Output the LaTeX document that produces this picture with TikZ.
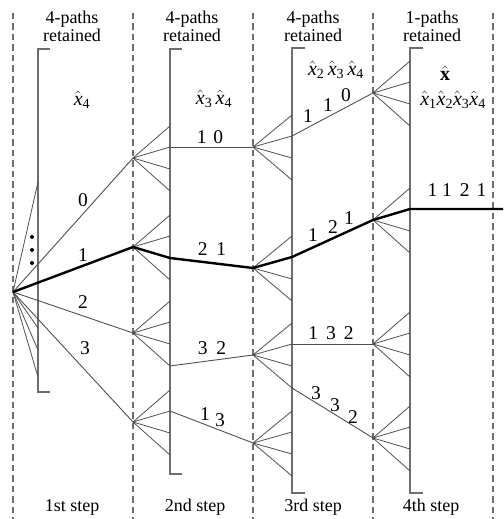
\documentclass[tikz,border=0pt]{standalone}
\usepackage{fontspec}
\setmainfont{Liberation Serif}
\usetikzlibrary{positioning}
\definecolor{treeln}{HTML}{505050}
\definecolor{brkln}{HTML}{6E6E6E}
\definecolor{stepln}{HTML}{6E6E6E}
\newcommand{\xest}[1]{$\hat{\mbox{\itshape x}}$\textsubscript{#1}}

\begin{document}
\begin{tikzpicture}[
  x=1pt, y=-1pt,
  font=\fontsize{18}{18.5}\selectfont,
  hdr/.style={align=center, inner sep=0pt},
  stp/.style={anchor=base, inner sep=0pt},
  dig/.style={inner sep=0pt, font=\fontsize{19.5}{20}\selectfont},
  est/.style={inner sep=0pt, font=\fontsize{20}{20}\selectfont},
  branch/.style={draw=treeln, line width=0.8pt},
  surv/.style={draw=treeln, line width=0.9pt},
  best/.style={draw=black, line width=2.4pt, line join=round},
  brk/.style={draw=brkln, line width=1.4pt},
  stepsep/.style={draw=stepln, line width=1.1pt, dash pattern=on 6.5pt off 4pt},
]
\useasboundingbox (0,0) rectangle (503,519);

% ---- step separators ----
\foreach \x in {13,133,253,373,493}
  \draw[stepsep] (\x,13) -- (\x,519);

% ---- headers and step names ----
\node[hdr] (h1) at (72,26.5)  {4-paths\\retained};
\node[hdr] (h2) at (192,26.5) {4-paths\\retained};
\node[hdr] (h3) at (313,26.5) {4-paths\\retained};
\node[hdr] (h4) at (432,26.5) {1-paths\\retained};
\node[stp] (s1) at (72,511.5)  {1st step};
\node[stp] (s2) at (195,511.5) {2nd step};
\node[stp] (s3) at (313,511.5) {3rd step};
\node[stp] (s4) at (431,511.5) {4th step};

% ---- retained-path brackets ----
\draw[brk] (50,49) -| (38,392) -- (50,392);
\draw[brk] (182,49) -| (170,474) -- (182,474);
\draw[brk] (305,48) -| (292,493) -- (305,493);
\draw[brk] (423,48) -| (410,493) -- (423,493);

% ---- estimated symbols ----
\node[est] (e1) at (82,100)  {\xest{4}};
\node[est] (e2) at (214,99)  {\xest{3}\,\xest{4}};
\node[est] (e3) at (336,70)  {\xest{2}\,\xest{3}\,\xest{4}};
\node[est] (e4) at (445,73)  {$\hat{\mbox{\bfseries x}}$};
\node[est] (e5) at (453,100) {\xest{1}\xest{2}\xest{3}\xest{4}};

% ---- tree points and their 4 children at the bracket ----
\coordinate (r) at (13,292);
\coordinate (r-1) at (38,182);
\coordinate (r-2) at (38,328);
\coordinate (r-3) at (38,350);
\coordinate (r-4) at (38,377);
\foreach \n/\x/\y/\bx in {a0/133/158/170, a1/133/247/170, a2/133/333/170, a3/133/422/170,
                          b0/253/147/292, b1/253/268/292, b2/253/355/292, b3/253/443/292,
                          c0/373/93/410,  c1/373/220/410, c2/373/344/410, c3/373/438/410} {
  \coordinate (\n) at (\x,\y);
  \foreach \k/\o in {1/-32,2/-11,3/11,4/33}
    \coordinate (\n-\k) at (\bx,{\y+(\o)});
}
\coordinate (fin) at (503,209);

% ---- candidate branches ----
\foreach \k in {1,...,4}
  \draw[branch] (r) -- (r-\k);
\foreach \n in {a0,a1,a2,a3,b0,b1,b2,b3,c0,c1,c2,c3}
  \foreach \k in {1,...,4}
    \draw[branch] (\n) -- (\n-\k);
\foreach \y in {237,250,263}
  \fill (32,\y) circle (2pt);

% ---- retained paths ----
\draw[surv] (r) -- (a0);
\draw[surv] (r) -- (a2);
\draw[surv] (r) -- (a3);
\draw[surv] (a0-2) -- (b0);
\draw[surv] (a2-4) -- (b2);
\draw[surv] (a3-2) -- (b3);
\draw[surv] (b0-2) -- (c0);
\draw[surv] (b2-2) -- (c2);
\draw[surv] (b2-4) -- (c3);

% ---- surviving (decided) path ----
\draw[best] (r) -- (a1) -- (a1-3) -- (b1) -- (b1-2) -- (c1) -- (c1-2) -- (fin);

% ---- path labels ----
\node[dig] (l0) at (83,200) {0};
\node[dig] (l1) at (83,255) {1};
\node[dig] (l2) at (83,302) {2};
\node[dig] (l3) at (85,348) {3};
\node[dig] (l10) at (210,137) {1\hspace{7pt}0};
\node[dig] (l21) at (212,249) {2\hspace{9pt}1};
\node[dig] (l32) at (212,348) {3\hspace{9pt}2};
\node[dig] (l13a) at (205,414) {1};
\node[dig] (l13b) at (220,420) {3};
\node[dig] (l110a) at (308,116) {1};
\node[dig] (l110b) at (328,105) {1};
\node[dig] (l110c) at (346,95)  {0};
\node[dig] (l121a) at (313,235) {1};
\node[dig] (l121b) at (333,227) {2};
\node[dig] (l121c) at (349,218) {1};
\node[dig] (l132) at (331,333) {1\hspace{8pt}3\hspace{8pt}2};
\node[dig] (l332a) at (316,393) {3};
\node[dig] (l332b) at (335,405) {3};
\node[dig] (l332c) at (353,417) {2};
\node[dig] (l1121) at (457,190) {1\hspace{5pt}1\hspace{8pt}2\hspace{7pt}1};
\end{tikzpicture}
\end{document}
